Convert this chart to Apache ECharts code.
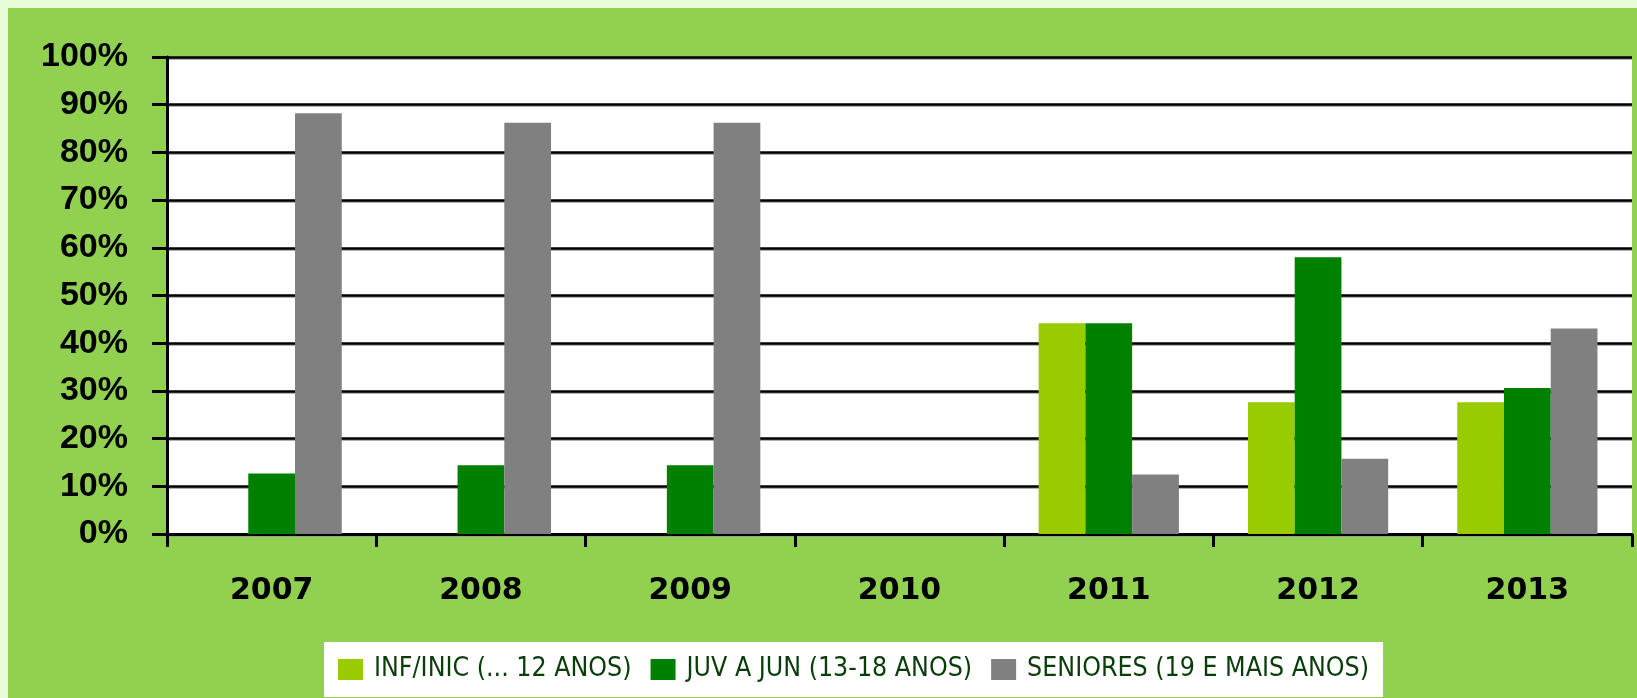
<!DOCTYPE html>
<html>
<head>
<meta charset="utf-8">
<script src="https://cdn.jsdelivr.net/npm/echarts@6/dist/echarts.min.js"></script>
<style>
html, body { margin: 0; padding: 0; background: #e9fcd8; }
#app { width: 1637px; height: 698px; }
</style>
</head>
<body>
<div id="app"></div>
<script>
var years = ['2007', '2008', '2009', '2010', '2011', '2012', '2013'];
var seriesNames = ['INF/INIC (... 12 ANOS)', 'JUV A JUN (13-18 ANOS)', 'SENIORES (19 E MAIS ANOS)'];
var infantis = [0, 0, 0, null, 44.2, 27.6, 27.6];
var juvenis = [12.7, 14.4, 14.4, null, 44.2, 58.0, 30.6];
var seniores = [88.2, 86.2, 86.2, null, 12.5, 15.8, 43.1];
var colors = ['#99cc00', '#008000', '#808080'];

function bar(name, data, color) {
    return {
        name: name,
        type: 'bar',
        data: data,
        barGap: '0%',
        barCategoryGap: '33%',
        itemStyle: { color: color },
        z: 3
    };
}

var option = {
    backgroundColor: '#e9fcd8',
    animation: false,
    graphic: [{
        type: 'rect',
        left: 8,
        top: 8,
        shape: { width: 1629, height: 690 },
        style: { fill: '#92d050' },
        z: -10
    }],
    grid: {
        left: 167,
        right: 5,
        top: 57,
        bottom: 164,
        show: true,
        backgroundColor: '#ffffff',
        borderWidth: 0
    },
    legend: {
        data: seriesNames,
        left: 324,
        top: 642,
        width: 1100,
        backgroundColor: '#ffffff',
        padding: [14, 14, 14, 14],
        itemWidth: 25,
        itemHeight: 21,
        itemGap: 19,
        icon: 'rect',
        textStyle: {
            fontFamily: '"DejaVu Sans Condensed", "Liberation Sans"',
            fontSize: 26.5,
            color: '#0b3d0b',
            lineHeight: 23,
            padding: [0, 0, 0, 6]
        }
    },
    xAxis: {
        type: 'category',
        data: years,
        axisLine: { lineStyle: { color: '#000', width: 3 } },
        axisTick: { show: true, length: 13, lineStyle: { color: '#000', width: 3 } },
        axisLabel: {
            margin: 42,
            fontFamily: 'DejaVu Sans',
            fontWeight: 'bold',
            fontSize: 30,
            color: '#000'
        }
    },
    yAxis: {
        type: 'value',
        min: 0,
        max: 100,
        interval: 10,
        axisLine: { show: true, lineStyle: { color: '#000', width: 3 } },
        axisTick: { show: true, length: 15, lineStyle: { color: '#000', width: 3 } },
        splitLine: { lineStyle: { color: '#000', width: 2.5, shadowColor: '#999', shadowOffsetY: 1, shadowBlur: 0 } },
        axisLabel: {
            margin: 39,
            formatter: '{value}%',
            fontFamily: 'Liberation Sans',
            fontWeight: 'bold',
            fontSize: 34,
            color: '#000'
        }
    },
    series: [
        bar(seriesNames[0], infantis, colors[0]),
        bar(seriesNames[1], juvenis, colors[1]),
        bar(seriesNames[2], seniores, colors[2])
    ]
};

var myChart = echarts.init(document.getElementById('app'));
myChart.setOption(option);
</script>
</body>
</html>
